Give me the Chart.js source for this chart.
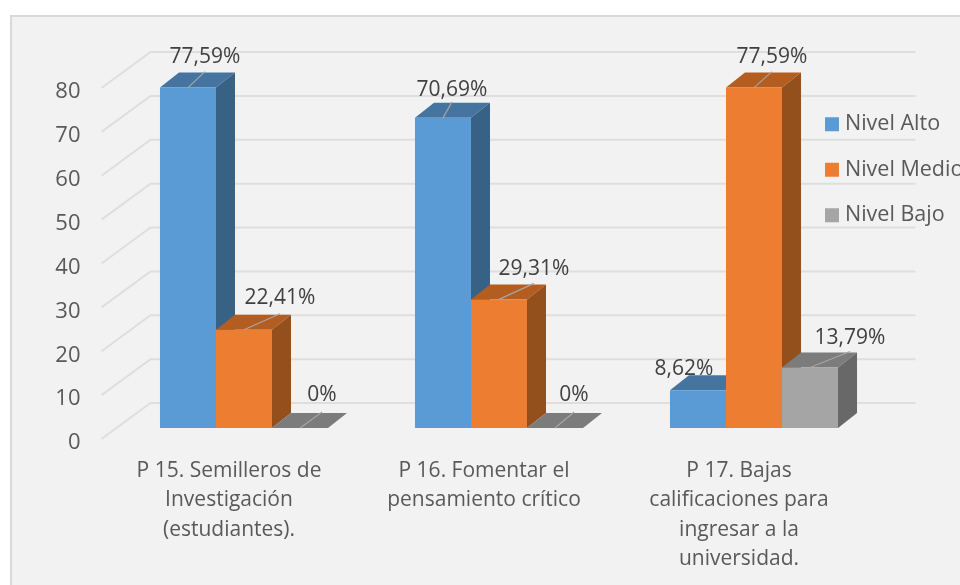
<!DOCTYPE html>
<html>
<head>
<meta charset="utf-8">
<style>
  html, body { margin: 0; padding: 0; background: #fff; overflow: hidden; }
  #panel { position: absolute; left: 10px; top: 15px; width: 960px; height: 580px; box-sizing: border-box; background: #f2f2f2; border: 2px solid #d9d9d9; }
  #wrap { position: absolute; left: 0; top: 0; width: 960px; height: 585px; }
</style>
<script src="https://cdn.jsdelivr.net/npm/chart.js@4/dist/chart.umd.min.js"></script>
</head>
<body>
<div id="panel"></div>
<div id="wrap"><canvas id="myChart" width="960" height="585"></canvas></div>
<script>
const categories = [
  ['P 15. Semilleros de', 'Investigación', '(estudiantes).'],
  ['P 16. Fomentar el', 'pensamiento crítico'],
  ['P 17. Bajas', 'calificaciones para', 'ingresar a la', 'universidad.']
];
const seriesNames = ['Nivel Alto', 'Nivel Medio', 'Nivel Bajo'];
const nivelAlto = [77.59, 70.69, 8.62];
const nivelMedio = [22.41, 29.31, 77.59];
const nivelBajo = [0, 0, 13.79];

const fontName = '"Open Sans", sans-serif';
const faceColors = ['#5b9bd5', '#ed7d31', '#a5a5a5'];
const topColors = ['#44749f', '#b35d20', '#7c7c7c'];
const sideColors = ['#386186', '#934f1c', '#686868'];

// how far the bar faces sit from the front and back of the 3D floor
const depthX = 19, depthY = 15;
const frontX = -15, frontY = 11, backX = 34, backY = -25;

// where each value label sits from the top middle of its bar [series][category]
const labelOffsets = [
  [[17, -31], [9, -28], [-14, -21]],
  [[36, -32], [35, -30], [18, -31]],
  [[22, -33], [19, -33], [40, -29]]
];

function percentText(value) {
  return value === 0 ? '0%' : value.toFixed(2).replace('.', ',') + '%';
}

// Floor, walls and the side/top of each bar. Native bars paint the front faces after this.
const bars3d = {
  id: 'bars3d',
  afterLayout(chart) {
    // put the native legend to the right, it overflows the canvas like the original
    const legend = chart.legend;
    legend.left = 805.75;
    legend.right = legend.left + legend.width;
    legend.top = 89.5;
    legend.bottom = legend.top + legend.height;
    legend.adjustHitBoxes();
  },
  beforeDatasetsDraw(chart) {
    const ctx = chart.ctx;
    const { left, right } = chart.chartArea;
    const yScale = chart.scales.y;

    ctx.save();
    ctx.strokeStyle = '#dedede';
    ctx.lineWidth = 2;
    yScale.ticks.forEach((tick) => {
      const y = yScale.getPixelForValue(tick.value);
      ctx.beginPath();
      ctx.moveTo(left + frontX, y + frontY);
      ctx.lineTo(left + backX, y + backY);
      ctx.lineTo(right + backX, y + backY);
      ctx.stroke();
    });

    chart.data.datasets.forEach((dataset, i) => {
      chart.getDatasetMeta(i).data.forEach((bar) => {
        const x1 = bar.x - bar.width / 2;
        const x2 = bar.x + bar.width / 2;
        // top
        ctx.fillStyle = topColors[i];
        ctx.beginPath();
        ctx.moveTo(x1, bar.y);
        ctx.lineTo(x1 + depthX, bar.y - depthY);
        ctx.lineTo(x2 + depthX, bar.y - depthY);
        ctx.lineTo(x2, bar.y);
        ctx.closePath();
        ctx.fill();
        // side
        ctx.fillStyle = sideColors[i];
        ctx.beginPath();
        ctx.moveTo(x2, bar.y);
        ctx.lineTo(x2 + depthX, bar.y - depthY);
        ctx.lineTo(x2 + depthX, bar.base - depthY);
        ctx.lineTo(x2, bar.base);
        ctx.closePath();
        ctx.fill();
      });
    });
    ctx.restore();
  },
  afterDatasetsDraw(chart) {
    const ctx = chart.ctx;
    ctx.save();
    ctx.font = '21px ' + fontName;
    ctx.textAlign = 'center';
    ctx.textBaseline = 'middle';
    chart.data.datasets.forEach((dataset, i) => {
      chart.getDatasetMeta(i).data.forEach((bar, j) => {
        const offset = labelOffsets[i][j];
        // leader line, the short 8,62% label has none
        if (offset[1] < -25) {
          ctx.strokeStyle = '#a6a6a6';
          ctx.lineWidth = 1.2;
          ctx.beginPath();
          ctx.moveTo(bar.x, bar.y);
          ctx.lineTo(bar.x + offset[0], bar.y - 16);
          ctx.stroke();
        }
        ctx.fillStyle = '#404040';
        ctx.fillText(percentText(dataset.data[j]), bar.x + offset[0], bar.y + offset[1]);
      });
    });
    ctx.restore();
  }
};

const ctx = document.getElementById('myChart');

new Chart(ctx, {
  type: 'bar',
  plugins: [bars3d],
  data: {
    labels: categories,
    datasets: [
      { label: seriesNames[0], data: nivelAlto, backgroundColor: faceColors[0] },
      { label: seriesNames[1], data: nivelMedio, backgroundColor: faceColors[1] },
      { label: seriesNames[2], data: nivelBajo, backgroundColor: faceColors[2] }
    ]
  },
  options: {
    responsive: false,
    animation: false,
    events: [],
    categoryPercentage: 0.659,
    barPercentage: 1,
    layout: { padding: { left: 0, top: 77, right: 78.5, bottom: 0 } },
    scales: {
      x: {
        grid: { display: false, drawTicks: false },
        border: { display: false },
        afterFit(scale) { scale.height = 157; },
        ticks: {
          autoSkip: false,
          maxRotation: 0,
          minRotation: 0,
          padding: 28,
          labelOffset: -15,
          color: '#595959',
          font: { family: fontName, size: 21, lineHeight: 1.405 }
        }
      },
      y: {
        min: 0,
        max: 80,
        grid: { display: false, drawTicks: false },
        border: { display: false },
        afterFit(scale) { scale.width = 116.5; },
        ticks: {
          stepSize: 10,
          padding: 36,
          labelOffset: 15,
          color: '#595959',
          font: { family: fontName, size: 22 }
        }
      }
    },
    plugins: {
      tooltip: { enabled: false },
      legend: {
        position: 'chartArea',
        align: 'start',
        labels: {
          // small box with a thick outline, so the text starts as close as in the original
          boxWidth: 4.5,
          boxHeight: 4.5,
          padding: 24,
          color: '#595959',
          font: { family: fontName, size: 21.5 },
          generateLabels(chart) {
            return Chart.defaults.plugins.legend.labels.generateLabels(chart).map((item) => {
              item.lineWidth = 9.5;
              item.strokeStyle = item.fillStyle;
              return item;
            });
          }
        }
      }
    }
  }
});
</script>
</body>
</html>
